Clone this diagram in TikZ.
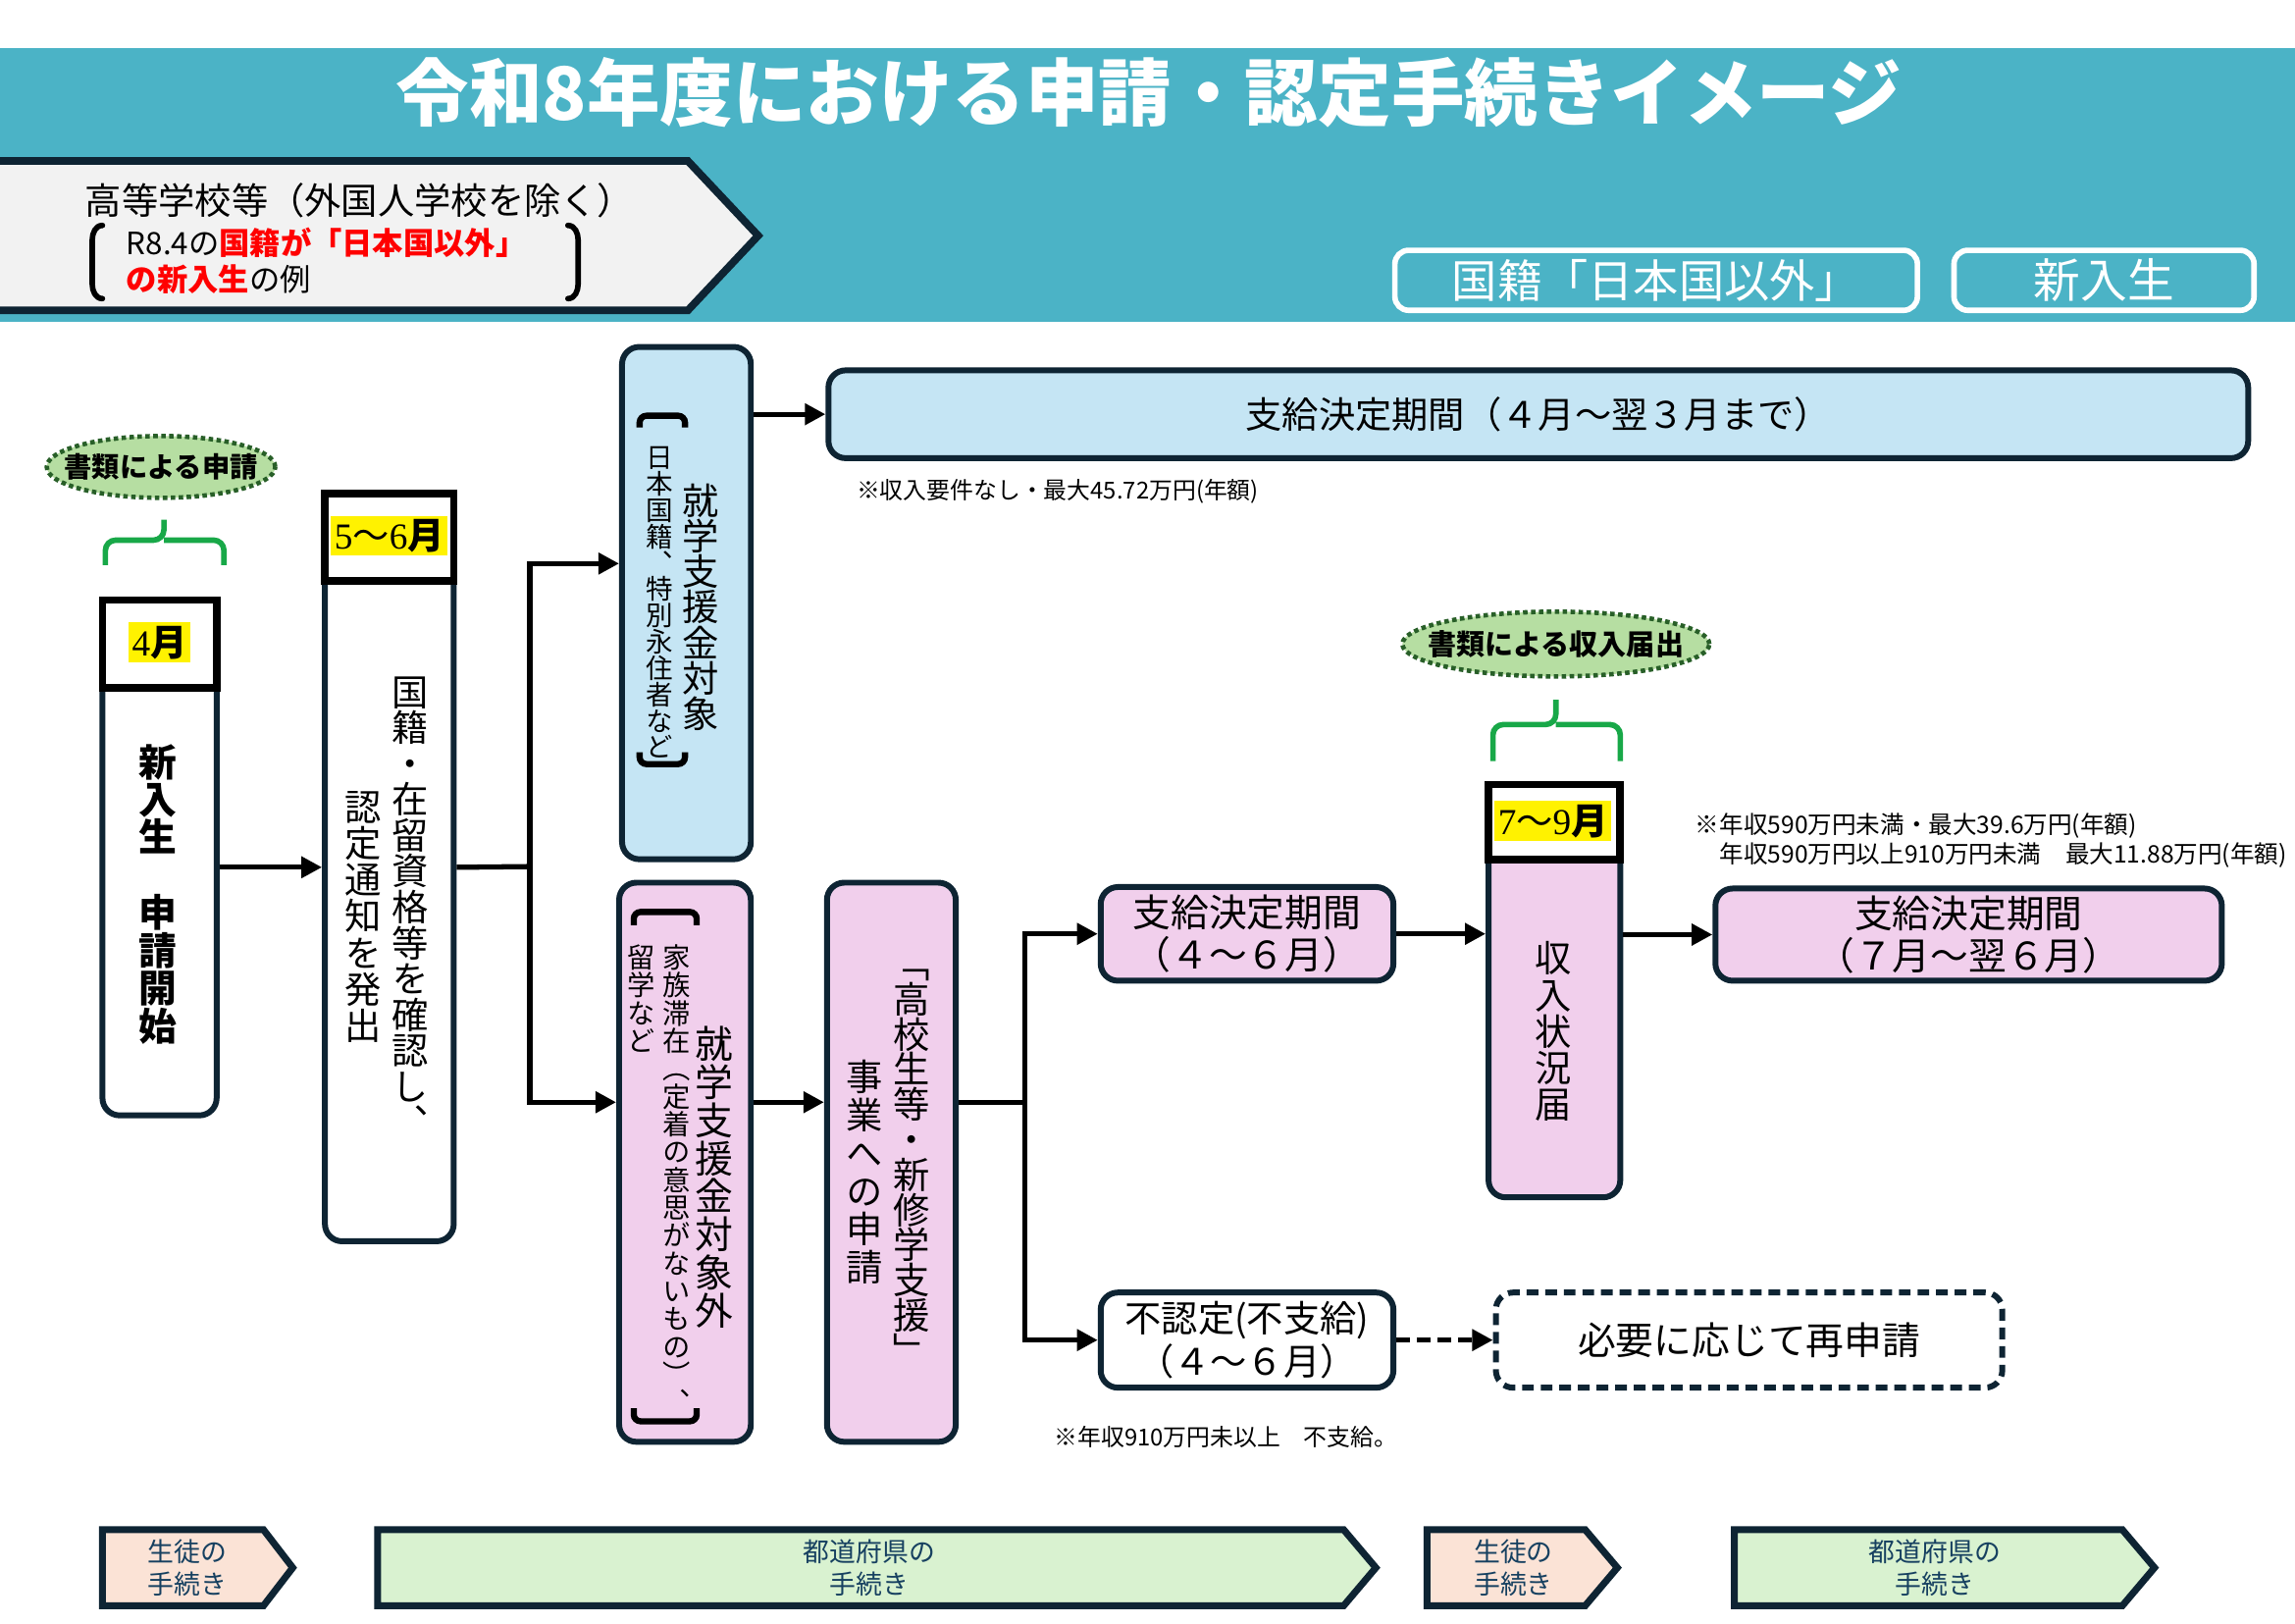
\documentclass[tikz,border=0pt]{standalone}
\usepackage{fontspec}
\usepackage{xfp}
\setmainfont{Noto Sans CJK JP}
\newfontfamily\vjp[RawFeature=+vert]{Noto Sans CJK JP}
\newfontfamily\numf{Liberation Serif}
\usetikzlibrary{arrows.meta,shapes.geometric,fit,calc}
\definecolor{bandc}{RGB}{75,179,198}
\definecolor{navyc}{RGB}{14,36,51}
\definecolor{lblue}{RGB}{197,229,244}
\definecolor{lpink}{RGB}{241,207,236}
\definecolor{egreen}{RGB}{182,222,162}
\definecolor{edgreen}{RGB}{40,95,40}
\definecolor{gbrc}{RGB}{24,168,72}
\definecolor{peach}{RGB}{251,227,214}
\definecolor{chgreen}{RGB}{217,242,208}
\definecolor{chtext}{RGB}{22,64,96}
\definecolor{pgray}{RGB}{242,242,242}
\newcommand\px[1]{\fontsize{\fpeval{#1*0.4244}pt}{\fpeval{#1*0.4244*1.2}pt}\selectfont}
\newcommand\pxl[2]{\fontsize{\fpeval{#1*0.4244}pt}{\fpeval{#2*0.4244}pt}\selectfont}
\makeatletter
\newcommand\vstack[2]{\vbox{\baselineskip=\fpeval{#1*0.4244}pt\lineskiplimit=-100pt\lineskip=0pt\@tfor\vch:=#2\do{\hbox to 1em{\hss\vch\hss}}}}
\makeatother
\tikzset{
  bx/.style={draw=navyc, line width=1.7pt, rounded corners=5pt, inner sep=0pt},
  hdr/.style={draw=black, line width=2.2pt, fill=white},
  arr/.style={line width=1.5pt, -{Triangle[length=6pt,width=6pt]}},
  ln/.style={line width=1.5pt},
  tag/.style={draw=white, line width=1.6pt, rounded corners=4pt, inner sep=0pt},
  ell/.style={ellipse, fill=egreen, draw=edgreen, densely dotted, line width=1.3pt, inner sep=0pt},
  gbrs/.style={draw=gbrc, line width=1.6pt, rounded corners=3pt},
  brk/.style={line width=1.8pt, rounded corners=2pt},
  chev/.style={draw=navyc, line width=2pt},
  mon/.style={fill=yellow, inner sep=1pt},
}
\begin{document}
\begin{tikzpicture}[x=0.014917cm, y=-0.014917cm]
\useasboundingbox (0,0) rectangle (1568,1109);
\fill[white] (0,0) rectangle (1568,1109);
% title band
\fill[bandc] (0,33) rectangle (1568,220);
\node[text=white, font=\bfseries\px{50}] (title) at (785,63) {令和8年度における申請・認定手続きイメージ};
% pentagon
\draw[draw=navyc, fill=pgray, line width=2.2pt] (-10,110) -- (470,110) -- (518,161) -- (470,212) -- (-10,212) -- cycle;
\node[anchor=west, font=\px{25}] (sch) at (50,137) {高等学校等（外国人学校を除く）};
\node[anchor=west, font=\px{21}] (ex1) at (78,166) {R8.4の\textcolor{red}{\bfseries 国籍が「日本国以外」}};
\node[anchor=west, font=\px{21}] (ex2) at (78,191) {\textcolor{red}{\bfseries の新入生}の例};
\draw[line width=1.6pt, line cap=round] (70,154) to[out=180,in=90] (63,164) -- (63,194) to[out=-90,in=180] (70,204);
\draw[line width=1.6pt, line cap=round] (388,154) to[out=0,in=90] (395,164) -- (395,194) to[out=-90,in=0] (388,204);
% tags
\node[tag, fit={(953,171) (1310,212)}] (tagA) {};
\node[text=white, font=\px{31}] (tagAt) at (tagA.center) {国籍「日本国以外」};
\node[tag, fit={(1335,171) (1540,212)}] (tagB) {};
\node[text=white, font=\px{32}] (tagBt) at (tagB.center) {新入生};
% ellipse 1 and bracket
\node[ell, minimum width=2.33cm, minimum height=0.63cm] (e1) at (110,319) {};
\node[font=\bfseries\px{19}] (e1t) at (e1.center) {書類による申請};
\draw[gbrs] (72,386) -- (72,369) -- (112,369) -- (112,355) (112,369) -- (153,369) -- (153,386);
% box 4
\node[bx, fill=white, fit={(70,410) (148,762)}] (b4) {};
\draw[hdr] (70,410) rectangle (148,470);
\node[mon, font=\px{25}] (m4) at (109,439) {\numf 4\rmfamily\bfseries 月};
\node[anchor=north, font=\vjp\bfseries\px{26}] (t4) at (108,500) {\vstack{25.8}{新入生　申請開始}};
% box 5-6
\node[bx, fill=white, fit={(222,337) (310,848)}] (b56) {};
\draw[hdr] (222,337) rectangle (310,397);
\node[mon, font=\px{25}] (m56) at (266,366) {\numf 5\rmfamily 〜\numf 6\rmfamily\bfseries 月};
\node[anchor=north, font=\vjp\px{25}] (t56a) at (280,454) {\vstack{24.5}{国籍・在留資格等を確認し、}};
\node[anchor=north, font=\vjp\px{25}] (t56b) at (248,532) {\vstack{25}{認定通知を発出}};
% blue box
\node[bx, fill=lblue, fit={(425,237) (513,587)}] (bl) {};
\node[anchor=north, font=\vjp\px{25}] (blt) at (479,322) {\vstack{24.3}{就学支援金対象}};
\node[anchor=north, font=\vjp\px{18.5}] (bln) at (451,297) {\vstack{18}{日本国籍、特別永住者など}};
\draw[brk] (437,292) -- (437,284) -- (468,284) -- (468,292);
\draw[brk] (437,514) -- (437,522) -- (468,522) -- (468,514);
% blue bar
\node[bx, fill=lblue, fit={(566,253) (1536,313)}] (bar) {};
\node[font=\px{25}] (bart) at (bar.center) {支給決定期間（４月〜翌３月まで）};
\node[anchor=west, font=\px{16}] (n1) at (577,336) {※収入要件なし・最大45.72万円(年額)};
% pink 1
\node[bx, fill=lpink, fit={(423,603) (513,985)}] (p1) {};
\node[anchor=north, font=\vjp\px{26}] (p1t) at (488,693) {\vstack{26}{就学支援金対象外}};
\node[anchor=north, font=\vjp\px{19}] (p1n) at (462,637) {\vstack{19}{家族滞在（定着の意思がないもの）、}};
\node[anchor=north, font=\vjp\px{19}] (p1m) at (438,637) {\vstack{19}{留学など}};
\draw[brk] (433,632) -- (433,623) -- (476,623) -- (476,632);
\draw[brk] (433,962) -- (433,971) -- (476,971) -- (476,962);
% pink 2
\node[bx, fill=lpink, fit={(565,603) (653,985)}] (p2) {};
\node[anchor=north, font=\vjp\px{25}] (p2t) at (623,654) {\vstack{24}{「高校生等・新修学支援」}};
\node[anchor=north, font=\vjp\px{25}] (p2u) at (591,716) {\vstack{26}{事業への申請}};
% pink A and reject
\node[bx, fill=lpink, fit={(752,606) (952,670)}] (pa) {};
\node[align=center, font=\pxl{26}{29}] (pat) at (pa.center) {支給決定期間\\（４〜６月）};
\node[bx, fill=white, fit={(752,883) (952,948)}] (rj) {};
\node[align=center, font=\pxl{25}{30}] (rjt) at (rj.center) {不認定(不支給)\\（４〜６月）};
\node[anchor=west, font=\px{16}] (n3) at (712,982) {※年収910万円未以上　不支給。};
\node[bx, fill=white, dash pattern=on 3.4pt off 2pt, fit={(1022,883) (1368,948)}] (rs) {};
\node[font=\px{26}] (rst) at (rs.center) {必要に応じて再申請};
% ellipse 2 and bracket
\node[ell, minimum width=3.13cm, minimum height=0.66cm] (e2) at (1063,440) {};
\node[font=\bfseries\px{19.5}] (e2t) at (e2.center) {書類による収入届出};
\draw[gbrs] (1020,520) -- (1020,495) -- (1063,495) -- (1063,478) (1063,495) -- (1107,495) -- (1107,520);
% box 7-9
\node[bx, fill=lpink, fit={(1017,536) (1107,818)}] (b79) {};
\draw[hdr] (1017,536) rectangle (1107,587);
\node[mon, font=\px{25}] (m79) at (1061,561) {\numf 7\rmfamily 〜\numf 9\rmfamily\bfseries 月};
\node[anchor=north, font=\vjp\px{25}] (t79) at (1061,635) {\vstack{25}{収入状況届}};
% notes right
\node[anchor=west, font=\px{16.5}] (n2a) at (1150,564) {※年収590万円未満・最大39.6万円(年額)};
\node[anchor=west, font=\px{16.5}] (n2b) at (1150,584) {　年収590万円以上910万円未満　最大11.88万円(年額)};
% pink B
\node[bx, fill=lpink, fit={(1172,607) (1518,670)}] (pb) {};
\node[align=center, font=\pxl{26}{29}] (pbt) at (pb.center) {支給決定期間\\（７月〜翌６月）};
% connectors
\coordinate (j1) at (362,592);
\coordinate (j2) at (700,753);
\draw[arr] (b4.east |- b56.west) -- (b56.west);
\draw[ln] (b56.east) -- (j1);
\draw[arr] (j1) |- ($(bl.west)+(0,-27)$);
\draw[arr] (j1) |- ($(p1.west)+(0,-41)$);
\draw[arr] (bl.east |- bar.west) -- (bar.west);
\draw[arr] ($(p1.east)+(0,-41)$) -- ($(p2.west)+(0,-41)$);
\draw[ln] ($(p2.east)+(0,-41)$) -- (j2);
\draw[arr] (j2) |- (pa.west);
\draw[arr] (j2) |- (rj.west);
\draw[arr] (pa.east) -- (pa.east -| b79.west);
\draw[arr] (b79.east |- pb.west) -- (pb.west);
\draw[arr, dash pattern=on 4pt off 2pt] (rj.east) -- (rs.west);
% bottom chevrons
\draw[chev, fill=peach] (70,1045) -- (180,1045) -- (200,1071) -- (180,1097) -- (70,1097) -- cycle;
\node[text=chtext, align=center, font=\pxl{18}{22}] (c1) at (128,1071) {生徒の\\手続き};
\draw[chev, fill=chgreen] (258,1045) -- (918,1045) -- (940,1071) -- (918,1097) -- (258,1097) -- cycle;
\node[text=chtext, align=center, font=\pxl{18}{22}] (c2) at (594,1071) {都道府県の\\手続き};
\draw[chev, fill=peach] (975,1045) -- (1083,1045) -- (1105,1071) -- (1083,1097) -- (975,1097) -- cycle;
\node[text=chtext, align=center, font=\pxl{18}{22}] (c3) at (1034,1071) {生徒の\\手続き};
\draw[chev, fill=chgreen] (1185,1045) -- (1450,1045) -- (1472,1071) -- (1450,1097) -- (1185,1097) -- cycle;
\node[text=chtext, align=center, font=\pxl{18}{22}] (c4) at (1322,1071) {都道府県の\\手続き};
\end{tikzpicture}
\end{document}
